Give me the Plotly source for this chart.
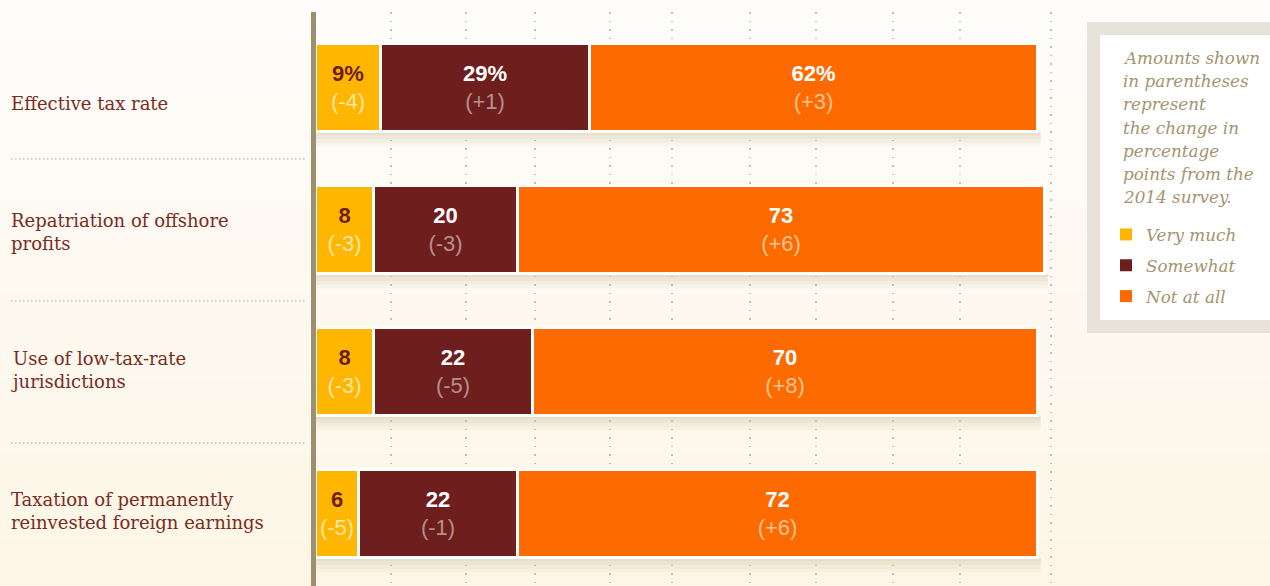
import plotly.graph_objects as go

# ---------------- data ----------------
categories = [
    "Effective tax rate",
    "Repatriation of offshore<br>profits",
    "Use of low-tax-rate<br>jurisdictions",
    "Taxation of permanently<br>reinvested foreign earnings",
]
series_names = ["Very much", "Somewhat", "Not at all"]
very_much = [9, 8, 8, 6]
somewhat = [29, 20, 22, 22]
not_at_all = [62, 73, 70, 72]
chg_very_much = [-4, -3, -3, -5]
chg_somewhat = [1, -3, -5, -1]
chg_not_at_all = [3, 6, 8, 6]
note_lines = [
    "Amounts shown",
    "in parentheses",
    "represent",
    "the change in",
    "percentage",
    "points from the",
    "2014 survey.",
]

# ---------------- styling ----------------
W, H = 1270, 586
colors = ["#ffb600", "#6e1e1c", "#fc6a00"]
value_colors = ["#6e1e1a", "#ffffff", "#ffffff"]
change_colors = ["#ffe6a3", "#b4908d", "#ffc38f"]
label_color = "#7b2b22"
note_color = "#a4946f"
grid_positions = [10.4, 20.8, 30.3, 40.7, 49.3, 60.1, 69.3, 79.9, 89.2, 101.9]
label_yshift = [-16, -2, 2, 3]
BAR_W = 0.62
SERIF = "DejaVu Serif, serif"

def px_x(x):
    return x / W

def px_y(y):
    return 1 - y / H

values = [very_much, somewhat, not_at_all]
changes = [chg_very_much, chg_somewhat, chg_not_at_all]
ycats = list(range(len(categories)))

fig = go.Figure()
for s, name in enumerate(series_names):
    texts = []
    for i, v in enumerate(values[s]):
        suffix = "%" if i == 0 else ""
        texts.append(
            f"<b>{v}{suffix}</b><br><span style='color:{change_colors[s]}'>({changes[s][i]:+d})</span>"
        )
    fig.add_trace(go.Bar(
        y=ycats, x=values[s], orientation="h", name=name,
        width=BAR_W,
        marker=dict(color=colors[s], line=dict(color="#ffffff", width=3)),
        text=texts, textposition="inside", insidetextanchor="middle",
        textangle=0,
        textfont=dict(family="Liberation Sans, Arial, sans-serif", size=22, color=value_colors[s]),
        showlegend=False, hoverinfo="skip",
    ))
# legend entries (same series, legend symbols without the white outline)
for s, name in enumerate(series_names):
    fig.add_trace(go.Bar(
        y=[None], x=[None], orientation="h", name=name,
        marker=dict(color=colors[s], line=dict(width=0)),
        legendgroup=name, showlegend=True, hoverinfo="skip",
    ))

shapes = []
# background vertical gradient
top_rgb = (254, 253, 251)
bot_rgb = (253, 246, 230)
N = 40
for k in range(N):
    t = k / (N - 1)
    c = tuple(round(top_rgb[j] + (bot_rgb[j] - top_rgb[j]) * t) for j in range(3))
    shapes.append(dict(type="rect", xref="paper", yref="paper", x0=0, x1=1,
                       y0=1 - (k + 1) / N, y1=1 - k / N, fillcolor="rgb(%d,%d,%d)" % c,
                       line=dict(width=0), layer="below"))
# bar shadows
totals = [a + b + c for a, b, c in zip(very_much, somewhat, not_at_all)]
for i, tot in enumerate(totals):
    for k, op in enumerate([0.85, 0.6, 0.38, 0.18]):
        shapes.append(dict(type="rect", xref="x", yref="y", x0=0, x1=tot + 0.4,
                           y0=i + BAR_W / 2 + 0.025 * k, y1=i + BAR_W / 2 + 0.025 * (k + 1),
                           fillcolor="#e2d9c3", opacity=op, line=dict(width=0), layer="below"))
# left dotted separators
for i in range(len(categories) - 1):
    shapes.append(dict(type="line", xref="paper", yref="y", x0=px_x(11), x1=px_x(306),
                       y0=i + 0.5, y1=i + 0.5,
                       line=dict(color="#c9c1b2", width=1.5, dash="1.5px,2.5px"), layer="below"))
# legend frame
shapes.append(dict(type="rect", xref="paper", yref="paper", x0=px_x(1087), x1=1,
                   y0=px_y(333), y1=px_y(22), fillcolor="#e7e2da", line=dict(width=0), layer="below"))
shapes.append(dict(type="rect", xref="paper", yref="paper", x0=px_x(1100), x1=1,
                   y0=px_y(320), y1=px_y(35), fillcolor="#ffffff", line=dict(width=0), layer="below"))

annotations = []
for i, cat in enumerate(categories):
    annotations.append(dict(xref="paper", yref="y", x=px_x(9), y=i, xanchor="left",
                            yanchor="middle", align="left", text=cat, showarrow=False,
                            yshift=label_yshift[i],
                            font=dict(family=SERIF, size=18, color=label_color)))
for k, line in enumerate(note_lines):
    annotations.append(dict(xref="paper", yref="paper", x=px_x(1121), y=px_y(58 + 23.2 * k),
                            xanchor="left", yanchor="middle", text=line, showarrow=False,
                            font=dict(family=SERIF, size=16.8,
                                      color=note_color, style="italic")))

fig.update_layout(
    width=W, height=H,
    margin=dict(l=0, r=0, t=0, b=0),
    paper_bgcolor="#fdf9f0",
    plot_bgcolor="rgba(0,0,0,0)",
    barmode="stack",
    bargap=0,
    shapes=shapes,
    annotations=annotations,
    uniformtext=dict(minsize=22, mode="show"),
    showlegend=True,
    legend=dict(
        x=px_x(1106), y=px_y(217), xanchor="left", yanchor="top",
        bgcolor="rgba(0,0,0,0)", borderwidth=0,
        traceorder="grouped", tracegroupgap=6,
        font=dict(family=SERIF, size=16.8, color=note_color, style="italic"),
    ),
    xaxis=dict(domain=[px_x(316), px_x(1063)], range=[0, 103.5],
               tickvals=grid_positions, showticklabels=False, ticks="",
               showgrid=True, gridcolor="#c6beae", gridwidth=1.5, griddash="1.5px,7px",
               zeroline=False, showline=False, fixedrange=True),
    yaxis=dict(domain=[0, 1 - 12 / H], range=[3.507, -0.535],
               showticklabels=False, ticks="", showgrid=False, zeroline=False,
               showline=True, linecolor="#9e8f6e", linewidth=5, fixedrange=True),
)

fig.write_html("out.html", config={"displayModeBar": False},
               post_script="document.body.style.margin='0';document.body.style.overflow='hidden';")
